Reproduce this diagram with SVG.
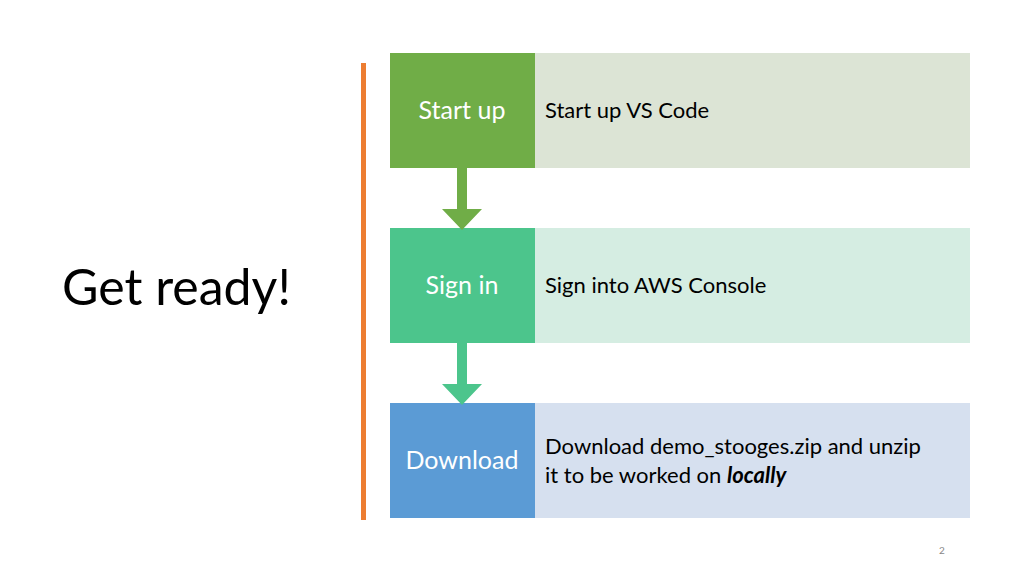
<svg xmlns="http://www.w3.org/2000/svg" width="1024" height="576" viewBox="0 0 1024 576">
<style>
text{font-family:Lato,"Open Sans",sans-serif}
.lbl{fill:#fff;font-size:25px;text-anchor:middle}
.desc{fill:#000;font-size:22px}
</style>
<rect width="1024" height="576" fill="#fff"/>
<text x="62" y="305" font-size="50" fill="#000">Get ready!</text>
<rect x="361" y="63" width="5" height="457" fill="#ED7D31"/>
<g id="n1">
<rect x="535" y="53" width="435" height="115" fill="#DCE4D5"/>
<rect x="390" y="53" width="145" height="115" fill="#70AD47"/>
<text class="lbl" x="462" y="119">Start up</text>
<text class="desc" x="545" y="118">Start up VS Code</text>
</g>
<g id="n2">
<rect x="535" y="228" width="435" height="115" fill="#D5EDE2"/>
<rect x="390" y="228" width="145" height="115" fill="#4CC58C"/>
<text class="lbl" x="462" y="294">Sign in</text>
<text class="desc" x="545" y="293">Sign into AWS Console</text>
</g>
<g id="n3">
<rect x="535" y="403" width="435" height="115" fill="#D6E0EF"/>
<rect x="390" y="403" width="145" height="115" fill="#5B9BD5"/>
<text class="lbl" x="462" y="469">Download</text>
<text class="desc" x="545" y="454">Download demo_stooges.zip and unzip</text>
<text class="desc" x="545" y="483">it to be worked on <tspan font-weight="bold" font-style="italic">locally</tspan></text>
</g>
<g id="connectors">
<path d="M457 168h10v41h15l-20 21l-20-21h15z" fill="#70AD47"/>
<path d="M457 343h10v41h15l-20 21l-20-21h15z" fill="#4CC58C"/>
</g>
<text x="942" y="554" font-size="10" fill="#888" text-anchor="middle">2</text>
</svg>
